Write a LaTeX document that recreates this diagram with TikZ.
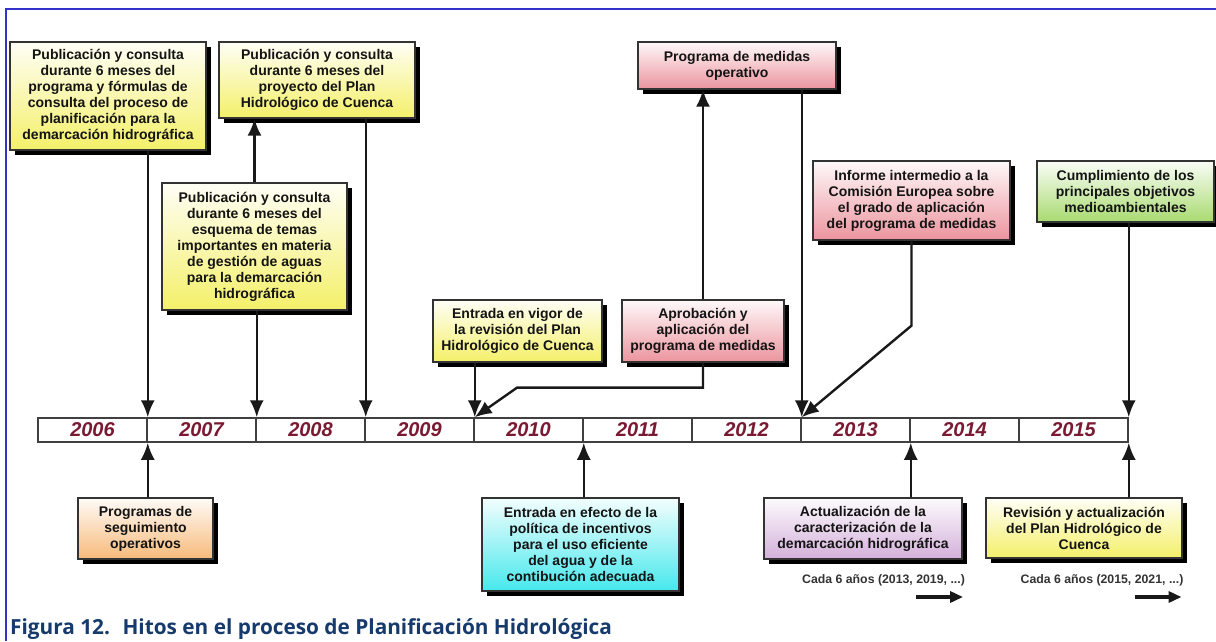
\documentclass[tikz,border=0pt]{standalone}
\usepackage{fontspec}
\setmainfont{Liberation Sans}
\newfontfamily\pieletra{Open Sans}
\usepackage[svgnames]{xcolor}
\usepackage{tikz}
\usetikzlibrary{arrows.meta,calc,shadows}
\definecolor{amarillo}{RGB}{244,240,105}
\definecolor{rosa}{RGB}{236,148,158}
\definecolor{verde}{RGB}{168,218,112}
\definecolor{naranja}{RGB}{246,186,122}
\definecolor{celeste}{RGB}{70,232,236}
\definecolor{lila}{RGB}{212,176,218}
\definecolor{granate}{RGB}{122,26,50}
\definecolor{azulmarco}{RGB}{51,51,204}
\definecolor{azulpie}{RGB}{22,58,108}
\tikzset{
    hito/.style args={#1}{top color=#1!6, bottom color=#1, draw=black!80, line width=1.3pt,
        general shadow={fill=black, shadow xshift=4.5pt, shadow yshift=-4.5pt},
        align=center, text=black!92, font=\bfseries\fontsize{14}{16}\selectfont, inner sep=2pt},
    anio/.style={draw=black!75, line width=1.5pt, minimum width=109pt, minimum height=24pt,
        text=granate, font=\bfseries\itshape\fontsize{20}{20}\selectfont},
    conector/.style={->, line width=2.4pt, draw=black!90},
    cada/.style={inner sep=0pt, text=black!80, font=\bfseries\fontsize{12.3}{14}\selectfont},
    flecha/.style={-{Triangle[length=13pt,width=11pt]}, line width=4.5pt, draw=black!90},
    marco/.style={draw=azulmarco, line width=2.4pt}
}

\begin{document}
\begin{tikzpicture}[x=1pt, y=-1pt, >={Latex[length=17pt,width=14pt]}]
\useasboundingbox (0,0) rectangle (1216,641);
\draw[marco] (1216,9) -- (6,9) -- (6,641);
% linea de tiempo
\foreach \a [count=\i from 0] in {2006,...,2015} {
    \node[anio] (y\a) at (92.5+109*\i,430) {\a};
}
% hitos de arriba
\node[hito=amarillo, minimum width=196pt, minimum height=108pt] (pub) at (108,96)
    {Publicación y consulta\\durante 6 meses del\\programa y fórmulas de\\consulta del proceso de\\planificación para la\\demarcación hidrográfica};
\node[hito=amarillo, minimum width=196pt, minimum height=76pt] (proy) at (317,80)
    {Publicación y consulta\\durante 6 meses del\\proyecto del Plan\\Hidrológico de Cuenca};
\node[hito=amarillo, minimum width=185pt, minimum height=127pt] (esq) at (254.5,246.5)
    {Publicación y consulta\\durante 6 meses del\\esquema de temas\\importantes en materia\\de gestión de aguas\\para la demarcación\\hidrográfica};
\node[hito=rosa, minimum width=198pt, minimum height=47pt] (oper) at (737,65.5)
    {Programa de medidas\\operativo};
\node[hito=amarillo, minimum width=169pt, minimum height=62pt] (vigor) at (517.5,331)
    {Entrada en vigor de\\la revisión del Plan\\Hidrológico de Cuenca};
\node[hito=rosa, minimum width=162pt, minimum height=62pt] (aprob) at (703,331)
    {Aprobación y\\aplicación del\\programa de medidas};
\node[hito=rosa, minimum width=197pt, minimum height=79pt] (inf) at (911.5,200.5)
    {Informe intermedio a la\\Comisión Europea sobre\\el grado de aplicación\\del programa de medidas};
\node[hito=verde, minimum width=177pt, minimum height=61pt] (cumpl) at (1125.5,191.5)
    {Cumplimiento de los\\principales objetivos\\medioambientales};
% hitos de abajo
\node[hito=naranja, minimum width=135pt, minimum height=61pt] (segui) at (145.5,528.5)
    {Programas de\\seguimiento\\operativos};
\node[hito=celeste, minimum width=197pt, minimum height=93pt] (efecto) at (580.5,544.5)
    {Entrada en efecto de la\\política de incentivos\\para el uso eficiente\\del agua y de la\\contibución adecuada};
\node[hito=lila, minimum width=198pt, minimum height=61pt] (actu) at (863,528.5)
    {Actualización de la\\caracterización de la\\demarcación hidrográfica};
\node[hito=amarillo, minimum width=196pt, minimum height=60pt] (rev) at (1084,528)
    {Revisión y actualización\\del Plan Hidrológico de\\Cuenca};
\node[cada] (cada1) at (883.5,580) {Cada 6 años (2013, 2019, ...)};
\node[cada] (cada2) at (1102,580) {Cada 6 años (2015, 2021, ...)};
% conectores
\draw[conector] (pub.south -| y2006.north east) -- (y2006.north east);
\draw[conector] (esq.north) -- (esq.north |- proy.south);
\draw[conector] (esq.south -| y2007.north east) -- (y2007.north east);
\draw[conector] (proy.south -| y2008.north east) -- (y2008.north east);
\draw[conector] (vigor.south -| y2009.north east) -- (y2009.north east);
\draw[conector] (aprob.north) -- (aprob.north |- oper.south);
\draw[conector] (aprob.south) -- ++(0,25) -- ++(-186,0) -- (y2009.north east);
\draw[conector] (oper.south -| y2012.north east) -- (y2012.north east);
\draw[conector] (inf.south) -- ++(0,85) -- (y2012.north east);
\draw[conector] (cumpl.south -| y2015.north east) -- (y2015.north east);
\draw[conector] (y2006.south east |- segui.north) -- (y2006.south east);
\draw[conector] (y2010.south east |- efecto.north) -- (y2010.south east);
\draw[conector] (y2013.south east |- actu.north) -- (y2013.south east);
\draw[conector] (y2015.south east |- rev.north) -- (y2015.south east);
\draw[flecha] ([xshift=-49pt,yshift=-17pt]cada1.east) -- ([xshift=-2pt,yshift=-17pt]cada1.east);
\draw[flecha] ([xshift=-49pt,yshift=-17pt]cada2.east) -- ([xshift=-2pt,yshift=-17pt]cada2.east);
\node[anchor=base west, inner sep=0pt, text=azulpie, font=\pieletra\bfseries\fontsize{20.8}{22}\selectfont] (pie) at (10,634)
    {Figura 12.\hspace{0.6em}Hitos en el proceso de Planificación Hidrológica};
\end{tikzpicture}
\end{document}
